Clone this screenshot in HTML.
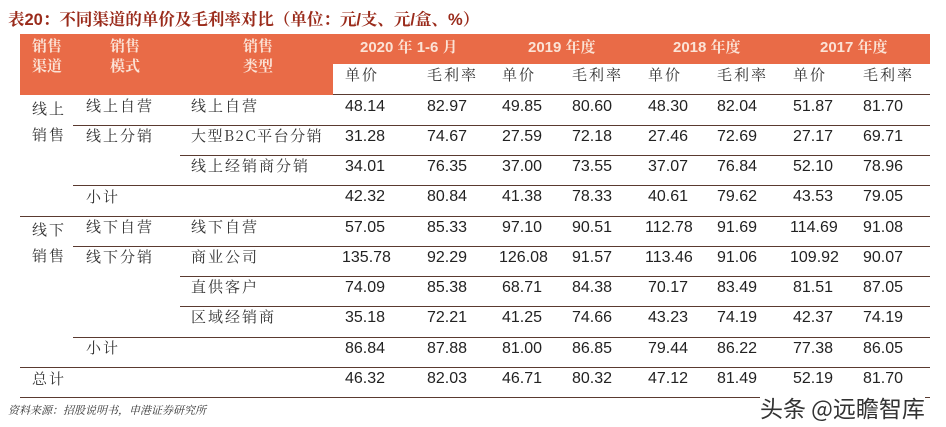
<!DOCTYPE html>
<html><head><meta charset="utf-8"><style>
body{margin:0;width:946px;height:427px;background:#fff;position:relative;overflow:hidden;font-family:"Liberation Sans","Noto Serif CJK SC",serif;color:#222}
div{position:absolute;white-space:nowrap}
.t{font-size:15px;line-height:20px;font-family:"Noto Serif CJK SC",serif;letter-spacing:2px;color:#333}
.n{font-size:16px;line-height:20px;font-family:"Liberation Sans",sans-serif}
.h{color:#fbe3d6;font-weight:bold;font-size:15px;line-height:20px;font-family:"Liberation Sans","Noto Serif CJK SC",serif}
.l{height:1px;background:#5a3a30}
</style></head><body>
<div style="left:8px;top:6px;font-size:16.5px;font-weight:bold;color:#9a2b1b;font-family:'Liberation Sans','Noto Serif CJK SC',serif">表20：不同渠道的单价及毛利率对比（单位：元/支、元/盒、%）</div>
<div style="left:20px;top:34px;width:910px;height:30px;background:#e96b47"></div>
<div style="left:20px;top:64px;width:313px;height:31px;background:#e96b47"></div>
<div class="h" style="left:32px;top:37px">销售<br>渠道</div>
<div class="h" style="left:110px;top:37px">销售<br>模式</div>
<div class="h" style="left:243px;top:37px">销售<br>类型</div>
<div class="h" style="left:360px;top:38px">2020 年 1-6 月</div>
<div class="h" style="left:528px;top:38px">2019 年度</div>
<div class="h" style="left:673px;top:38px">2018 年度</div>
<div class="h" style="left:820px;top:38px">2017 年度</div>
<div class="t" style="left:345px;top:65px">单价</div><div class="t" style="left:427px;top:65px">毛利率</div>
<div class="t" style="left:502px;top:65px">单价</div><div class="t" style="left:572px;top:65px">毛利率</div>
<div class="t" style="left:648px;top:65px">单价</div><div class="t" style="left:717px;top:65px">毛利率</div>
<div class="t" style="left:793px;top:65px">单价</div><div class="t" style="left:863px;top:65px">毛利率</div>
<div class="l" style="left:333px;top:94px;width:597px"></div>
<div class="l" style="left:73px;top:125px;width:857px"></div>
<div class="l" style="left:180px;top:155px;width:750px"></div>
<div class="l" style="left:73px;top:185px;width:857px"></div>
<div class="l" style="left:20px;top:216px;width:910px"></div>
<div class="l" style="left:73px;top:246px;width:857px"></div>
<div class="l" style="left:180px;top:276px;width:750px"></div>
<div class="l" style="left:180px;top:306px;width:750px"></div>
<div class="l" style="left:73px;top:337px;width:857px"></div>
<div class="l" style="left:20px;top:367px;width:910px"></div>
<div class="l" style="left:20px;top:397px;width:910px"></div>
<div class="t" style="left:32px;top:96px;line-height:26px">线上<br>销售</div>
<div class="t" style="left:32px;top:217px;line-height:26px">线下<br>销售</div>
<div class="t" style="left:32px;top:369px">总计</div>
<div class="t" style="left:86px;top:96px">线上自营</div>
<div class="t" style="left:86px;top:126px">线上分销</div>
<div class="t" style="left:86px;top:187px">小计</div>
<div class="t" style="left:86px;top:217px">线下自营</div>
<div class="t" style="left:86px;top:247px">线下分销</div>
<div class="t" style="left:86px;top:338px">小计</div>
<div class="t" style="left:191px;top:96px">线上自营</div>
<div class="t" style="left:191px;top:126px;letter-spacing:1.5px">大型B2C平台分销</div>
<div class="t" style="left:191px;top:156px">线上经销商分销</div>
<div class="t" style="left:191px;top:217px">线下自营</div>
<div class="t" style="left:191px;top:247px">商业公司</div>
<div class="t" style="left:191px;top:277px">直供客户</div>
<div class="t" style="left:191px;top:307px">区域经销商</div>
<div id="nums"></div>
<div style="left:8px;top:402px;font-size:11px;font-style:italic;font-family:'Noto Serif CJK SC',serif;color:#333">资料来源：招股说明书，申港证券研究所</div>
<div style="left:760px;top:390px;font-size:23px;color:#333;font-family:'Noto Sans CJK SC',sans-serif;background:#fff">头条 @远瞻智库</div>
<script>
var rows=[[97,"48.14 82.97 49.85 80.60 48.30 82.04 51.87 81.70"],[127,"31.28 74.67 27.59 72.18 27.46 72.69 27.17 69.71"],[157,"34.01 76.35 37.00 73.55 37.07 76.84 52.10 78.96"],[187,"42.32 80.84 41.38 78.33 40.61 79.62 43.53 79.05"],[218,"57.05 85.33 97.10 90.51 112.78 91.69 114.69 91.08"],[248,"135.78 92.29 126.08 91.57 113.46 91.06 109.92 90.07"],[278,"74.09 85.38 68.71 84.38 70.17 83.49 81.51 87.05"],[308,"35.18 72.21 41.25 74.66 43.23 74.19 42.37 74.19"],[339,"86.84 87.88 81.00 86.85 79.44 86.22 77.38 86.05"],[369,"46.32 82.03 46.71 80.32 47.12 81.49 52.19 81.70"]];
var xs=[345,427,502,572,648,717,793,863],h="";
rows.forEach(function(r){r[1].split(" ").forEach(function(v,i){var x=xs[i]-(v.length>5?3:0);h+='<div class="n" style="left:'+x+'px;top:'+r[0]+'px">'+v+'</div>';});});
document.getElementById("nums").outerHTML=h;
</script>
</body></html>
